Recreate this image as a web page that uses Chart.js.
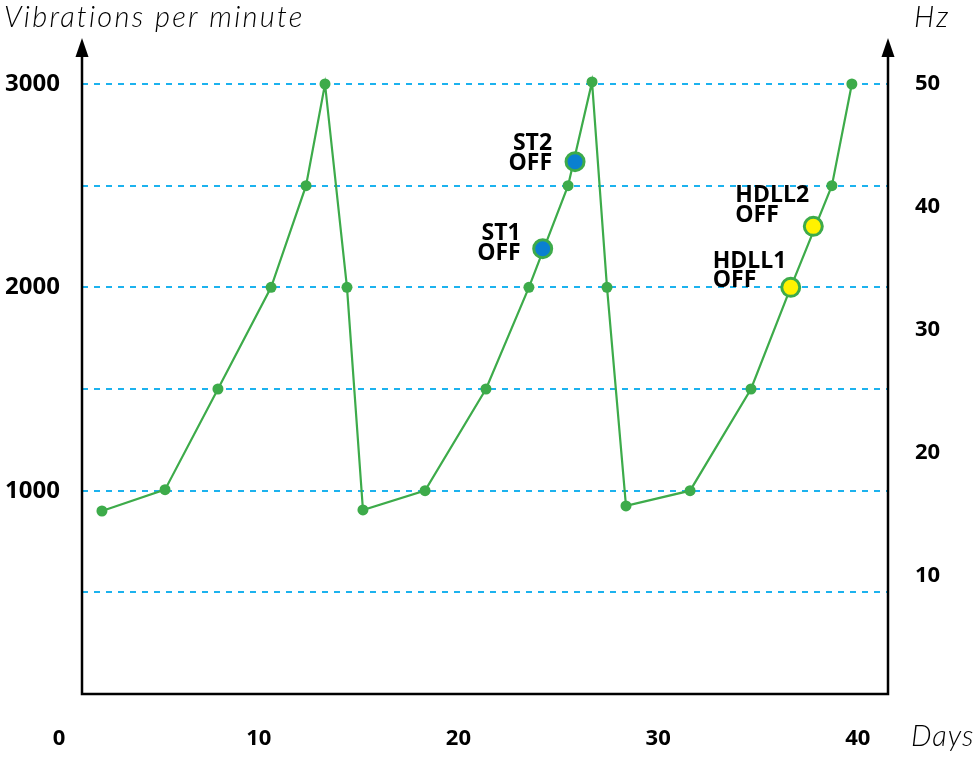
<!DOCTYPE html>
<html><head><meta charset="utf-8">
<script src="https://cdn.jsdelivr.net/npm/chart.js@4.4.1/dist/chart.umd.min.js"></script>
<style>html,body{margin:0;padding:0;background:#fff;} #wrap{width:975px;height:757px;position:relative;}</style>
</head><body><div id="wrap"><canvas id="c" width="975" height="757"></canvas></div>
<script>
// ---- data ----
const days = [2.15,5.31,7.96,10.62,12.37,13.32,14.42,15.22,18.33,21.38,23.53,25.49,26.69,27.44,28.39,31.6,34.65,36.64,38.7,39.7];
const vpm  = [900,1005,1500,2000,2500,3000,2000,905,1000,1500,2000,2500,3010,2000,925,1000,1500,2000,2500,3000];
const eventNames = ['ST1','ST2','HDLL1','HDLL2'];
const eventState = ['OFF','OFF','OFF','OFF'];
const eventDays = [24.22,25.84,36.64,37.77];
const eventVpm  = [2190,2618,2000,2300];
const xTicks = [0,10,20,30,40];
const vpmTicks = [500,1000,1500,2000,2500,3000];
const vpmLabels = [1000,2000,3000];
const hzTicks = [10,20,30,40,50];

// ---- styling ----
const GREEN = '#3dab4a';
const BLUE = '#0a80d0';
const YELLOW = '#fff200';
const GRID = '#1cb2ee';
const eventFill = [BLUE, BLUE, YELLOW, YELLOW];
const labelLayout = [
  {align:'right', dx:-22, dy:[-9, 11]},
  {align:'right', dx:-23, dy:[-12, 8]},
  {align:'left',  dx:-78, dy:[-19.5, 0]},
  {align:'left',  dx:-78, dy:[-24.5, -4]}
];
const boldFont = '"Open Sans", "Noto Sans", sans-serif';
const titleFont = 'Lato, "Open Sans", sans-serif';

const axesPlugin = {
  id: 'axesDeco',
  afterDraw(chart) {
    const ctx = chart.ctx;
    const a = chart.chartArea;
    ctx.save();
    ctx.strokeStyle = '#000';
    ctx.fillStyle = '#000';
    ctx.lineWidth = 2.5;
    ctx.beginPath();
    ctx.moveTo(a.left, a.top); ctx.lineTo(a.left, a.bottom); ctx.lineTo(a.right, a.bottom); ctx.lineTo(a.right, a.top);
    ctx.stroke();
    [a.left, a.right].forEach(x => {
      ctx.beginPath();
      ctx.moveTo(x, a.top - 18);
      ctx.lineTo(x - 6.5, a.top + 1);
      ctx.lineTo(x + 6.5, a.top + 1);
      ctx.closePath();
      ctx.fill();
    });
    // axis titles
    ctx.textBaseline = 'alphabetic';
    ctx.textAlign = 'left';
    ctx.font = 'italic 300 29px ' + titleFont;
    const t = 'Vibrations per minute';
    const w = ctx.measureText(t).width;
    const ls = Math.max(0, (298 - w) / (t.length - 1));
    ctx.letterSpacing = ls.toFixed(2) + 'px';
    ctx.fillText(t, 4, 27);
    ctx.fillText('Hz', 914, 27);
    ctx.font = 'italic 300 29px ' + titleFont;
    ctx.letterSpacing = '1px';
    ctx.fillText('Days', 911, 746);
    ctx.letterSpacing = '0px';
    // event labels
    const xs = chart.scales.x, ys = chart.scales.y;
    ctx.font = 'bold 23px ' + boldFont;
    eventNames.forEach((name, i) => {
      const px = xs.getPixelForValue(eventDays[i]);
      const py = ys.getPixelForValue(eventVpm[i]);
      const L = labelLayout[i];
      ctx.textAlign = L.align;
      ctx.fillText(name, px + L.dx, py + L.dy[0]);
      ctx.fillText(eventState[i], px + L.dx, py + L.dy[1]);
    });
    ctx.restore();
  }
};

new Chart(document.getElementById('c'), {
  type: 'line',
  data: {
    datasets: [
      {
        data: eventDays.map((d, i) => ({x: d, y: eventVpm[i]})),
        showLine: false,
        pointRadius: 9,
        pointBorderWidth: 3,
        pointBorderColor: GREEN,
        pointBackgroundColor: eventFill,
        yAxisID: 'y'
      },
      {
        data: days.map((d, i) => ({x: d, y: vpm[i]})),
        borderColor: GREEN,
        borderWidth: 2.2,
        pointRadius: 5.5,
        pointBackgroundColor: GREEN,
        pointBorderColor: GREEN,
        pointBorderWidth: 0,
        tension: 0,
        fill: false,
        yAxisID: 'y'
      }
    ]
  },
  options: {
    responsive: false,
    animation: false,
    layout: {padding: {top: 56, left: 0, right: 0, bottom: 0}},
    plugins: {legend: {display: false}, tooltip: {enabled: false}},
    scales: {
      x: {
        type: 'linear', min: 1.152, max: 41.51,
        afterBuildTicks: s => { s.ticks = xTicks.map(v => ({value: v})); },
        afterFit: s => { s.height = 63; },
        grid: {display: false, drawTicks: false},
        border: {display: false},
        ticks: {autoSkip: false, maxRotation: 0, padding: 32, color: '#000',
                font: {family: boldFont, size: 22, weight: 'bold'}}
      },
      y: {
        position: 'left', min: 0, max: 3137.7,
        afterBuildTicks: s => { s.ticks = vpmTicks.map(v => ({value: v})); },
        afterFit: s => { s.width = 82; },
        grid: {color: GRID, lineWidth: 2, drawTicks: false},
        border: {display: false, dash: [6, 6]},
        ticks: {padding: 22, color: '#000', font: {family: boldFont, size: 24, weight: 'bold'},
                callback: v => vpmLabels.includes(v) ? String(v) : ''}
      },
      y2: {
        position: 'right', min: 0.41, max: 52.28,
        afterBuildTicks: s => { s.ticks = hzTicks.map(v => ({value: v})); },
        afterFit: s => { s.width = 87; },
        grid: {display: false, drawTicks: false},
        border: {display: false},
        ticks: {padding: 27, color: '#000', font: {family: boldFont, size: 22, weight: 'bold'}}
      }
    }
  },
  plugins: [axesPlugin]
});
</script>
</body></html>
